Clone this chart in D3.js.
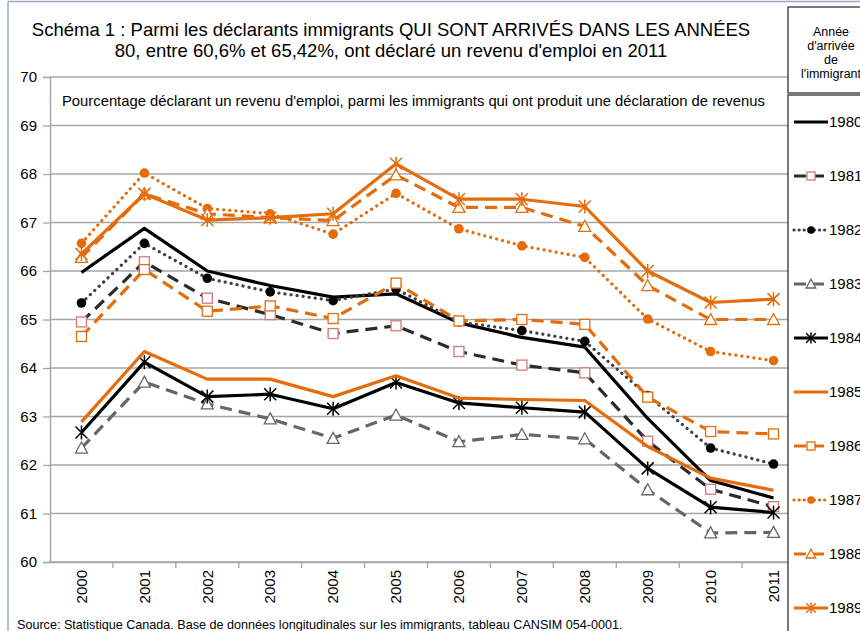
<!DOCTYPE html>
<html>
<head>
<meta charset="utf-8">
<script src="https://cdn.jsdelivr.net/npm/d3@7"></script>
<style>
  body { margin: 0; background: #fff; font-family: "Liberation Sans", Arial, sans-serif; }
  svg { display: block; }
</style>
</head>
<body>
<svg id="chart" width="860" height="631"></svg>
<script>
const years = [`2000`, `2001`, `2002`, `2003`, `2004`, `2005`, `2006`, `2007`, `2008`, `2009`, `2010`, `2011`];
const yTicks = [60, 61, 62, 63, 64, 65, 66, 67, 68, 69, 70];
const seriesNames = [`1980`, `1981`, `1982`, `1983`, `1984`, `1985`, `1986`, `1987`, `1988`, `1989`];

const s1980 = [65.97, 66.88, 66.00, 65.70, 65.46, 65.53, 64.93, 64.63, 64.43, 62.96, 61.68, 61.32];
const s1981 = [64.95, 66.19, 65.44, 65.10, 64.71, 64.87, 64.34, 64.06, 63.90, 62.49, 61.50, 61.14];
const s1982 = [65.34, 66.57, 65.85, 65.57, 65.39, 65.63, 64.95, 64.77, 64.55, 63.43, 62.35, 62.02];
const s1983 = [62.35, 63.71, 63.26, 62.95, 62.55, 63.03, 62.48, 62.63, 62.54, 61.49, 60.60, 60.61];
const s1984 = [62.67, 64.12, 63.41, 63.46, 63.16, 63.70, 63.28, 63.18, 63.09, 61.93, 61.13, 61.02];
const s1985 = [62.89, 64.34, 63.77, 63.77, 63.41, 63.84, 63.38, 63.35, 63.33, 62.38, 61.73, 61.48];
const s1986 = [64.65, 66.03, 65.17, 65.28, 65.02, 65.75, 64.97, 65.00, 64.90, 63.40, 62.69, 62.64];
const s1987 = [66.57, 68.02, 67.29, 67.18, 66.76, 67.60, 66.87, 66.52, 66.28, 65.01, 64.34, 64.15];
const s1988 = [66.28, 67.59, 67.18, 67.10, 67.04, 67.98, 67.31, 67.31, 66.92, 65.70, 65.00, 65.00];
const s1989 = [66.35, 67.59, 67.05, 67.10, 67.18, 68.21, 67.48, 67.48, 67.33, 66.00, 65.35, 65.42];

const orange = `#E46C0A`;

// style of each series: line colour, dash, marker
const styles = [
    { values: s1980, color: `#000`, dash: null, marker: null },
    { values: s1981, color: `#2b2b2b`, dash: `12,7`, marker: `square`, mColor: `#d07a78` },
    { values: s1982, color: `#404040`, dash: `0.1,6`, marker: `circle`, mColor: `#000` },
    { values: s1983, color: `#666`, dash: `12,7`, marker: `triangle`, mColor: `#666` },
    { values: s1984, color: `#000`, dash: null, marker: `star`, mColor: `#000` },
    { values: s1985, color: orange, dash: null, marker: null },
    { values: s1986, color: orange, dash: `12,7`, marker: `square`, mColor: orange },
    { values: s1987, color: orange, dash: `0.1,6`, marker: `circle`, mColor: orange },
    { values: s1988, color: orange, dash: `12,7`, marker: `triangle`, mColor: orange },
    { values: s1989, color: orange, dash: null, marker: `star`, mColor: orange }
];

const svg = d3.select(`#chart`);
const plotLeft = 50, plotRight = 805, plotTop = 77, plotBottom = 562;

const x = d3.scaleBand().domain(years).range([plotLeft, plotRight]);
const y = d3.scaleLinear().domain([60, 70]).range([plotBottom, plotTop]);

// outer chart border (top / left)
svg.append(`line`).attr(`x1`, 8).attr(`x2`, 860).attr(`y1`, 1.5).attr(`y2`, 1.5)
    .attr(`stroke`, `#9aa9c0`).attr(`stroke-width`, 1.5);
svg.append(`line`).attr(`x1`, 8).attr(`x2`, 8).attr(`y1`, 1.5).attr(`y2`, 631)
    .attr(`stroke`, `#9aa9c0`).attr(`stroke-width`, 1.5);

// title
const title = svg.append(`text`).attr(`text-anchor`, `middle`).attr(`font-size`, `18.5px`).attr(`fill`, `#000`);
title.append(`tspan`).attr(`x`, 391).attr(`y`, 36).text(`Schéma 1 : Parmi les déclarants immigrants QUI SONT ARRIVÉS DANS LES ANNÉES`);
title.append(`tspan`).attr(`x`, 391).attr(`y`, 57).text(`80, entre 60,6% et 65,42%, ont déclaré un revenu d'emploi en 2011`);

// gridlines
svg.append(`g`).selectAll(`line`).data(yTicks).enter().append(`line`)
    .attr(`x1`, plotLeft).attr(`x2`, 788)
    .attr(`y1`, d => y(d)).attr(`y2`, d => y(d))
    .attr(`stroke`, `#a6a6a6`).attr(`stroke-width`, 1.3);

// y axis
const yAxis = d3.axisLeft(y).tickValues(yTicks).tickSize(7).tickPadding(6).tickFormat(d3.format(`d`));
const gy = svg.append(`g`).attr(`transform`, `translate(${plotLeft},0)`).call(yAxis);
gy.select(`.domain`).attr(`stroke`, `#a6a6a6`).attr(`stroke-width`, 1.5);
gy.selectAll(`.tick line`).attr(`stroke`, `#a6a6a6`).attr(`stroke-width`, 1.3);
gy.selectAll(`.tick text`).attr(`font-size`, `15px`).attr(`font-family`, `"Liberation Sans", Arial, sans-serif`).attr(`fill`, `#000`);

// x axis
const xAxis = d3.axisBottom(x).tickSize(0).tickFormat(``);
const gx = svg.append(`g`).attr(`transform`, `translate(0,${plotBottom})`).call(xAxis);
gx.select(`.domain`).attr(`stroke`, `#a6a6a6`).attr(`stroke-width`, 1.5);
svg.append(`g`).selectAll(`line`).data(years.slice(1)).enter().append(`line`)
    .attr(`x1`, d => x(d)).attr(`x2`, d => x(d))
    .attr(`y1`, plotBottom).attr(`y2`, plotBottom + 6)
    .attr(`stroke`, `#a6a6a6`).attr(`stroke-width`, 1.3);
svg.append(`g`).selectAll(`text`).data(years).enter().append(`text`)
    .attr(`transform`, d => `translate(${x(d) + x.bandwidth() / 2},570) rotate(-90)`)
    .attr(`text-anchor`, `end`).attr(`dy`, `0.35em`)
    .attr(`font-size`, `15px`).attr(`fill`, `#000`)
    .text(d => d);

// subtitle inside plot
svg.append(`text`).attr(`x`, 62).attr(`y`, 106).attr(`font-size`, `14.8px`).attr(`fill`, `#000`)
    .text(`Pourcentage déclarant un revenu d'emploi, parmi les immigrants qui ont produit une déclaration de revenus`);

// markers
const drawMarker = (g, type, color, size) => {
    const s = size || 1;
    if (type === `square`) {
        g.append(`rect`).attr(`x`, -5 * s).attr(`y`, -5 * s).attr(`width`, 10 * s).attr(`height`, 10 * s)
            .attr(`fill`, `#fff`).attr(`stroke`, color).attr(`stroke-width`, 1.3);
    } else if (type === `circle`) {
        g.append(`circle`).attr(`r`, 4.8 * s).attr(`fill`, color);
    } else if (type === `triangle`) {
        g.append(`path`).attr(`d`, `M0,${-6 * s}L${6 * s},${5 * s}L${-6 * s},${5 * s}Z`)
            .attr(`fill`, `#fff`).attr(`stroke`, color).attr(`stroke-width`, 1.3);
    } else if (type === `star`) {
        g.append(`path`).attr(`d`, `M0,${-7 * s}V${7 * s}M${-6 * s},${-6 * s}L${6 * s},${6 * s}M${-6 * s},${6 * s}L${6 * s},${-6 * s}`)
            .attr(`fill`, `none`).attr(`stroke`, color).attr(`stroke-width`, 1.5);
    }
};

const line = d3.line().x((d, i) => x(years[i]) + x.bandwidth() / 2).y(d => y(d));

const plot = svg.append(`g`);
styles.forEach(st => {
    plot.append(`path`).datum(st.values)
        .attr(`d`, line)
        .attr(`fill`, `none`)
        .attr(`stroke`, st.color)
        .attr(`stroke-width`, 3.2)
        .attr(`stroke-linejoin`, `round`)
        .attr(`stroke-linecap`, st.dash && st.dash.startsWith(`0.1`) ? `round` : `butt`)
        .attr(`stroke-dasharray`, st.dash);
    if (st.marker) {
        st.values.forEach((v, i) => {
            const g = plot.append(`g`).attr(`transform`, `translate(${x(years[i]) + x.bandwidth() / 2},${y(v)})`);
            drawMarker(g, st.marker, st.mColor);
        });
    }
});

// legend
const lg = svg.append(`g`);
lg.append(`rect`).attr(`x`, 788).attr(`y`, 7).attr(`width`, 90).attr(`height`, 86)
    .attr(`fill`, `#fff`).attr(`stroke`, `#333`).attr(`stroke-width`, 1.3);
lg.append(`rect`).attr(`x`, 788).attr(`y`, 95).attr(`width`, 90).attr(`height`, 560)
    .attr(`fill`, `#fff`).attr(`stroke`, `#333`).attr(`stroke-width`, 1.3);
const head = lg.append(`text`).attr(`text-anchor`, `middle`).attr(`font-size`, `12.5px`).attr(`fill`, `#000`);
[`Année`, `d'arrivée`, `de`, `l'immigrant`].forEach((t, i) => {
    head.append(`tspan`).attr(`x`, 831).attr(`y`, 36 + i * 14).text(t);
});

styles.forEach((st, i) => {
    const ly = 122 + i * 54;
    const item = lg.append(`g`).attr(`transform`, `translate(0,${ly})`);
    item.append(`line`).attr(`x1`, 794).attr(`x2`, 828).attr(`y1`, 0).attr(`y2`, 0)
        .attr(`stroke`, st.color).attr(`stroke-width`, 3.2)
        .attr(`stroke-linecap`, st.dash && st.dash.startsWith(`0.1`) ? `round` : `butt`)
        .attr(`stroke-dasharray`, st.dash ? (st.dash.startsWith(`0.1`) ? `0.1,5` : `12,6`) : null);
    if (st.marker) {
        const g = item.append(`g`).attr(`transform`, `translate(811,0)`);
        drawMarker(g, st.marker, st.mColor, 0.8);
    }
    item.append(`text`).attr(`x`, 829).attr(`y`, 0).attr(`dy`, `0.35em`)
        .attr(`font-size`, `15px`).attr(`fill`, `#000`).text(seriesNames[i]);
});

// source
svg.append(`text`).attr(`x`, 17).attr(`y`, 629).attr(`font-size`, `12.6px`).attr(`fill`, `#000`)
    .text(`Source: Statistique Canada. Base de données longitudinales sur les immigrants, tableau CANSIM 054-0001.`);
</script>
</body>
</html>
